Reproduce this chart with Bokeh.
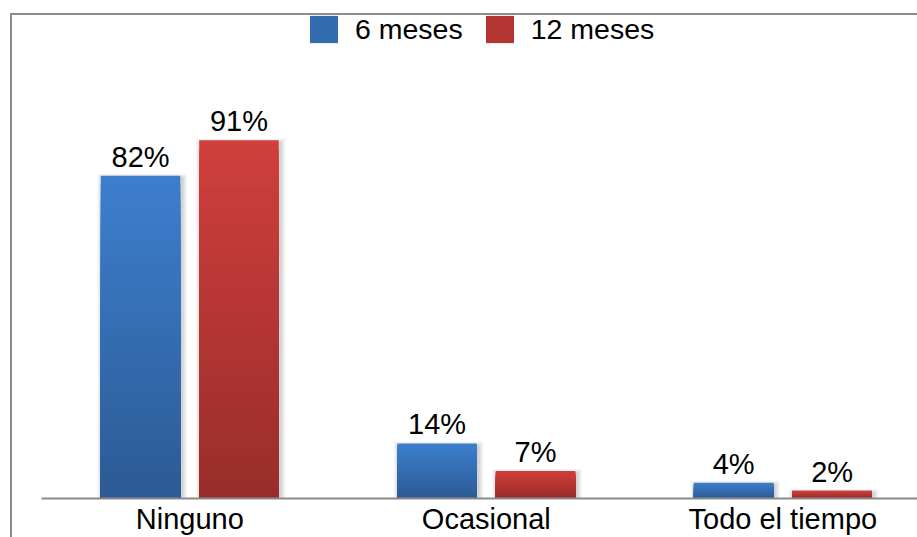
from bokeh.plotting import figure
from bokeh.models import ColumnDataSource, FixedTicker, Legend, LegendItem, Range1d
from bokeh.core.properties import value
from bokeh.embed import file_html
from bokeh.resources import INLINE

# Data
categories = ["Ninguno", "Ocasional", "Todo el tiempo"]
series_names = ["6 meses", "12 meses"]
meses_6 = [82, 14, 4]
meses_12 = [91, 7, 2]

FONT = "Liberation Sans"
BAR_W = 0.268
OFFSET = 0.166
N_STEPS = 36
FRAME_W, FRAME_H = 876, 487
PX_X = 2.954 / 876      # data units per screen pixel (x)
PX_Y = 122.7 / 483      # data units per screen pixel (y)
X_MAX, Y_MAX = FRAME_W * PX_X, FRAME_H * PX_Y

# (top colour, bottom colour) for the vertical gradient of each series
palettes = {
    "6 meses": ("#3d7ecd", "#2c5b95"),
    "12 meses": ("#d03f3c", "#982d2b"),
}


def hex_to_rgb(h):
    h = h.lstrip("#")
    return tuple(int(h[i:i + 2], 16) for i in (0, 2, 4))


def mix(c_top, c_bottom, t):
    a, b = hex_to_rgb(c_top), hex_to_rgb(c_bottom)
    return "#%02x%02x%02x" % tuple(round(b[i] + (a[i] - b[i]) * t) for i in range(3))


def gradient_source(values, shift, colours):
    """Bars built from stacked rectangles, tallest (lightest) drawn first."""
    xs, tops, fills = [], [], []
    for k in range(N_STEPS, 0, -1):
        frac = k / N_STEPS
        for i, v in enumerate(values):
            xs.append(i + 0.5 + shift)
            tops.append(v * frac)
            fills.append(mix(colours[0], colours[1], (k - 0.5) / N_STEPS))
    return ColumnDataSource(dict(x=xs, top=tops, fill=fills))


def shadow_source(values, shift):
    """Soft halo behind each bar: a few widening translucent layers."""
    xs, tops, widths = [], [], []
    for k in range(1, 6):
        for i, v in enumerate(values):
            xs.append(i + 0.5 + shift + 1.5 * PX_X)
            tops.append(v + (k - 3) * PX_Y)
            widths.append(BAR_W + 2 * k * PX_X)
    return ColumnDataSource(dict(x=xs, top=tops, w=widths))


p = figure(
    width=917, height=537,
    output_backend="svg", toolbar_location=None,
    x_range=Range1d(0, X_MAX), y_range=Range1d(0, Y_MAX),
    min_border_left=41, min_border_right=0, min_border_top=11, min_border_bottom=39,
)
# outer chart border (left and top edges) painted behind a transparent canvas
p.background_fill_color = None
p.border_fill_color = None
p.styles = {
    "background-color": "white",
    "background-image": "linear-gradient(#8c8c8c, #8c8c8c), linear-gradient(#8c8c8c, #8c8c8c)",
    "background-size": "2px 100%, 100% 2px",
    "background-position": "10px 13px, 10px 13px",
    "background-repeat": "no-repeat",
}
p.outline_line_color = None
p.xgrid.visible = False
p.ygrid.visible = False
p.yaxis.visible = False

renderers = []
groups = ((series_names[0], meses_6, -OFFSET), (series_names[1], meses_12, OFFSET))
for name, vals, shift in groups:
    p.vbar(x="x", top="top", bottom=0, width="w", source=shadow_source(vals, shift),
           fill_color="black", fill_alpha=0.035, line_color=None)

for name, vals, shift in groups:
    src = gradient_source(vals, shift, palettes[name])
    r = p.vbar(x="x", top="top", bottom=0, width=BAR_W, source=src,
               fill_color="fill", line_color=None)
    renderers.append(r)
    lab = ColumnDataSource(dict(
        x=[i + 0.5 + shift for i in range(len(vals))],
        y=vals,
        text=[f"{v}%" for v in vals],
    ))
    p.text(x="x", y="y", text="text", source=lab, text_align="center",
           text_baseline="alphabetic", y_offset=-19,
           text_font=value(FONT), text_font_size="29px", text_color="black")

mid = (N_STEPS // 2) * len(categories)
legend = Legend(
    items=[LegendItem(label=series_names[0], renderers=[renderers[0]], index=mid),
           LegendItem(label=series_names[1], renderers=[renderers[1]], index=mid)],
    orientation="horizontal", location=(265, 452),
    glyph_width=35, glyph_height=34, label_height=34, label_standoff=14, spacing=19,
    padding=0, margin=0, border_line_color=None, background_fill_alpha=0,
    label_text_font=FONT, label_text_font_size="28.5px", label_text_color="black",
)
p.add_layout(legend)

ax = p.xaxis[0]
ax.ticker = FixedTicker(ticks=[i + 0.5 for i in range(len(categories))])
ax.major_label_overrides = {i + 0.5: c for i, c in enumerate(categories)}
ax.major_tick_line_color = None
ax.minor_tick_line_color = None
ax.major_tick_in = 0
ax.major_tick_out = 0
ax.axis_line_color = "#8a8a8a"
ax.axis_line_width = 2
ax.major_label_standoff = 4
ax.major_label_text_font = FONT
ax.major_label_text_font_size = "29px"
ax.major_label_text_color = "black"

open("out.html", "w").write(file_html(p, INLINE))
